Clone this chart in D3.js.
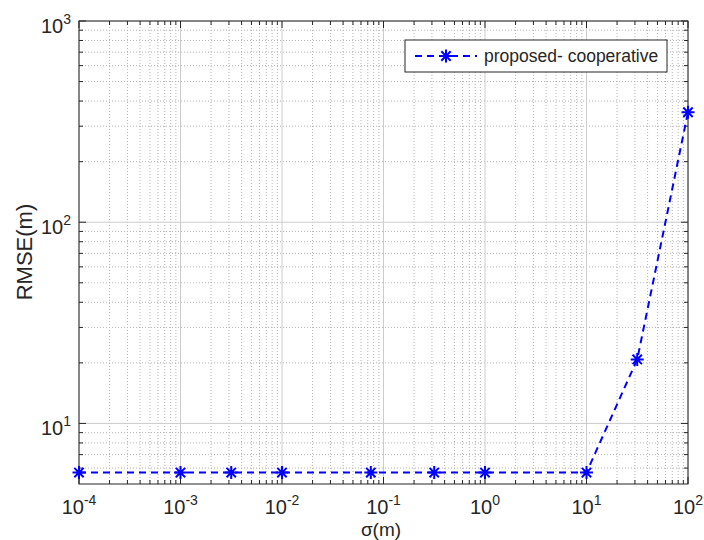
<!DOCTYPE html>
<html lang="en">
  <head>
    <meta charset="UTF-8" />
    <title>RMSE vs sigma</title>
    <style>
      body {
        margin: 0;
        background: #fff;
      }
      svg {
        display: block;
        font-family: "Liberation Sans", Arial, sans-serif;
      }
    </style>
    <script src="https://cdn.jsdelivr.net/npm/d3@7"></script>
  </head>
  <body>
    <div class="container"></div>
    <script>
      // data
      const sigma = [0.0001, 0.001, 0.00316, 0.01, 0.075, 0.316, 1, 10, 31.6, 100];
      const rmse = [5.7, 5.7, 5.7, 5.7, 5.7, 5.7, 5.7, 5.7, 20.8, 352];
      const seriesName = "proposed- cooperative";
      const xTickExp = [-4, -3, -2, -1, 0, 1, 2];
      const yTickExp = [1, 2, 3];

      function init() {
        const width = 704,
          height = 540;
        const pLeft = 79,
          pRight = 688,
          pTop = 21,
          pBottom = 484;

        const x = d3.scaleLog().domain([1e-4, 1e2]).range([pLeft, pRight]);
        const y = d3.scaleLog().domain([5, 1e3]).range([pBottom, pTop]);

        const svg = d3
          .select(".container")
          .append("svg")
          .attr("width", width)
          .attr("height", height);

        const axisColor = "#262626";

        // minor + major tick values
        const xMinor = [];
        for (let e = -4; e < 2; e++) {
          for (let m = 2; m <= 9; m++) xMinor.push(m * Math.pow(10, e));
        }
        const xMajor = xTickExp.map((e) => Math.pow(10, e));
        const yMinor = [];
        for (let e = 0; e < 3; e++) {
          for (let m = 2; m <= 9; m++) {
            const v = m * Math.pow(10, e);
            if (v > 5 && v < 1000) yMinor.push(v);
          }
        }
        const yMajor = yTickExp.map((e) => Math.pow(10, e));

        // grid
        const grid = svg.append("g");
        grid
          .selectAll(".xminor")
          .data(xMinor)
          .enter()
          .append("line")
          .attr("x1", (d) => x(d))
          .attr("x2", (d) => x(d))
          .attr("y1", pTop)
          .attr("y2", pBottom)
          .attr("stroke", "#b4b4b4")
          .attr("stroke-width", 1)
          .attr("stroke-dasharray", "1,2");
        grid
          .selectAll(".yminor")
          .data(yMinor)
          .enter()
          .append("line")
          .attr("x1", pLeft)
          .attr("x2", pRight)
          .attr("y1", (d) => y(d))
          .attr("y2", (d) => y(d))
          .attr("stroke", "#b4b4b4")
          .attr("stroke-width", 1)
          .attr("stroke-dasharray", "1,2");
        grid
          .selectAll(".xmajor")
          .data(xMajor)
          .enter()
          .append("line")
          .attr("x1", (d) => x(d))
          .attr("x2", (d) => x(d))
          .attr("y1", pTop)
          .attr("y2", pBottom)
          .attr("stroke", "#cccccc")
          .attr("stroke-width", 1);
        grid
          .selectAll(".ymajor")
          .data(yMajor)
          .enter()
          .append("line")
          .attr("x1", pLeft)
          .attr("x2", pRight)
          .attr("y1", (d) => y(d))
          .attr("y2", (d) => y(d))
          .attr("stroke", "#cccccc")
          .attr("stroke-width", 1);

        // inward ticks on all four sides
        const ticks = svg.append("g").attr("stroke", axisColor).attr("stroke-width", 1);
        function xTicks(vals, len) {
          vals.forEach((v) => {
            ticks.append("line").attr("x1", x(v)).attr("x2", x(v)).attr("y1", pBottom).attr("y2", pBottom - len);
            ticks.append("line").attr("x1", x(v)).attr("x2", x(v)).attr("y1", pTop).attr("y2", pTop + len);
          });
        }
        function yTicks(vals, len) {
          vals.forEach((v) => {
            ticks.append("line").attr("x1", pLeft).attr("x2", pLeft + len).attr("y1", y(v)).attr("y2", y(v));
            ticks.append("line").attr("x1", pRight).attr("x2", pRight - len).attr("y1", y(v)).attr("y2", y(v));
          });
        }
        xTicks(xMinor, 4);
        xTicks(xMajor, 7);
        yTicks(yMinor, 4);
        yTicks(yMajor, 7);

        // box
        svg
          .append("rect")
          .attr("x", pLeft)
          .attr("y", pTop)
          .attr("width", pRight - pLeft)
          .attr("height", pBottom - pTop)
          .attr("fill", "none")
          .attr("stroke", axisColor)
          .attr("stroke-width", 1);

        // tick labels
        const xl = svg
          .selectAll(".xlab")
          .data(xTickExp)
          .enter()
          .append("text")
          .attr("x", (d) => x(Math.pow(10, d)))
          .attr("y", 514)
          .attr("text-anchor", "middle")
          .attr("font-size", 20)
          .attr("fill", axisColor);
        xl.append("tspan").text("10");
        xl.append("tspan")
          .attr("dy", -9)
          .attr("font-size", 14)
          .text((d) => (d < 0 ? "-" + Math.abs(d) : d));

        const yl = svg
          .selectAll(".ylab")
          .data(yTickExp)
          .enter()
          .append("text")
          .attr("x", 71)
          .attr("y", (d) => y(Math.pow(10, d)) + 12)
          .attr("text-anchor", "end")
          .attr("font-size", 20)
          .attr("fill", axisColor);
        yl.append("tspan").text("10");
        yl.append("tspan")
          .attr("dy", -9)
          .attr("font-size", 14)
          .text((d) => d);

        // axis titles
        svg
          .append("text")
          .attr("x", 381)
          .attr("y", 536)
          .attr("text-anchor", "middle")
          .attr("font-size", 19)
          .attr("fill", axisColor)
          .text("σ(m)");
        svg
          .append("text")
          .attr("transform", "translate(32," + 252 + ") rotate(-90)")
          .attr("text-anchor", "middle")
          .attr("font-size", 22)
          .attr("fill", axisColor)
          .text("RMSE(m)");

        // series
        const points = sigma.map((s, i) => [s, rmse[i]]);
        const line = d3
          .line()
          .x((d) => x(d[0]))
          .y((d) => y(d[1]));
        const blue = "#0000ff";
        svg
          .append("path")
          .datum(points)
          .attr("d", line)
          .attr("fill", "none")
          .attr("stroke", blue)
          .attr("stroke-width", 2)
          .attr("stroke-dasharray", "7,5");

        const star = (g, cx, cy, r) => {
          const d = r * 0.72;
          g.append("path")
            .attr(
              "d",
              `M${cx - r},${cy}L${cx + r},${cy}M${cx},${cy - r}L${cx},${cy + r}` +
                `M${cx - d},${cy - d}L${cx + d},${cy + d}M${cx - d},${cy + d}L${cx + d},${cy - d}`
            )
            .attr("stroke", blue)
            .attr("stroke-width", 2)
            .attr("fill", "none");
        };
        const markers = svg.append("g");
        points.forEach((p) => star(markers, x(p[0]), y(p[1]), 6.5));

        // legend
        const lg = svg.append("g");
        lg.append("rect")
          .attr("x", 405)
          .attr("y", 40)
          .attr("width", 262)
          .attr("height", 32)
          .attr("fill", "#fff")
          .attr("stroke", axisColor)
          .attr("stroke-width", 1);
        lg.append("line")
          .attr("x1", 415)
          .attr("x2", 477)
          .attr("y1", 56)
          .attr("y2", 56)
          .attr("stroke", blue)
          .attr("stroke-width", 2)
          .attr("stroke-dasharray", "7,5");
        star(lg, 446, 56, 6.5);
        lg.append("text")
          .attr("x", 484)
          .attr("y", 62)
          .attr("font-size", 17.5)
          .attr("fill", axisColor)
          .text(seriesName);
      }
      init();
    </script>
  </body>
</html>
